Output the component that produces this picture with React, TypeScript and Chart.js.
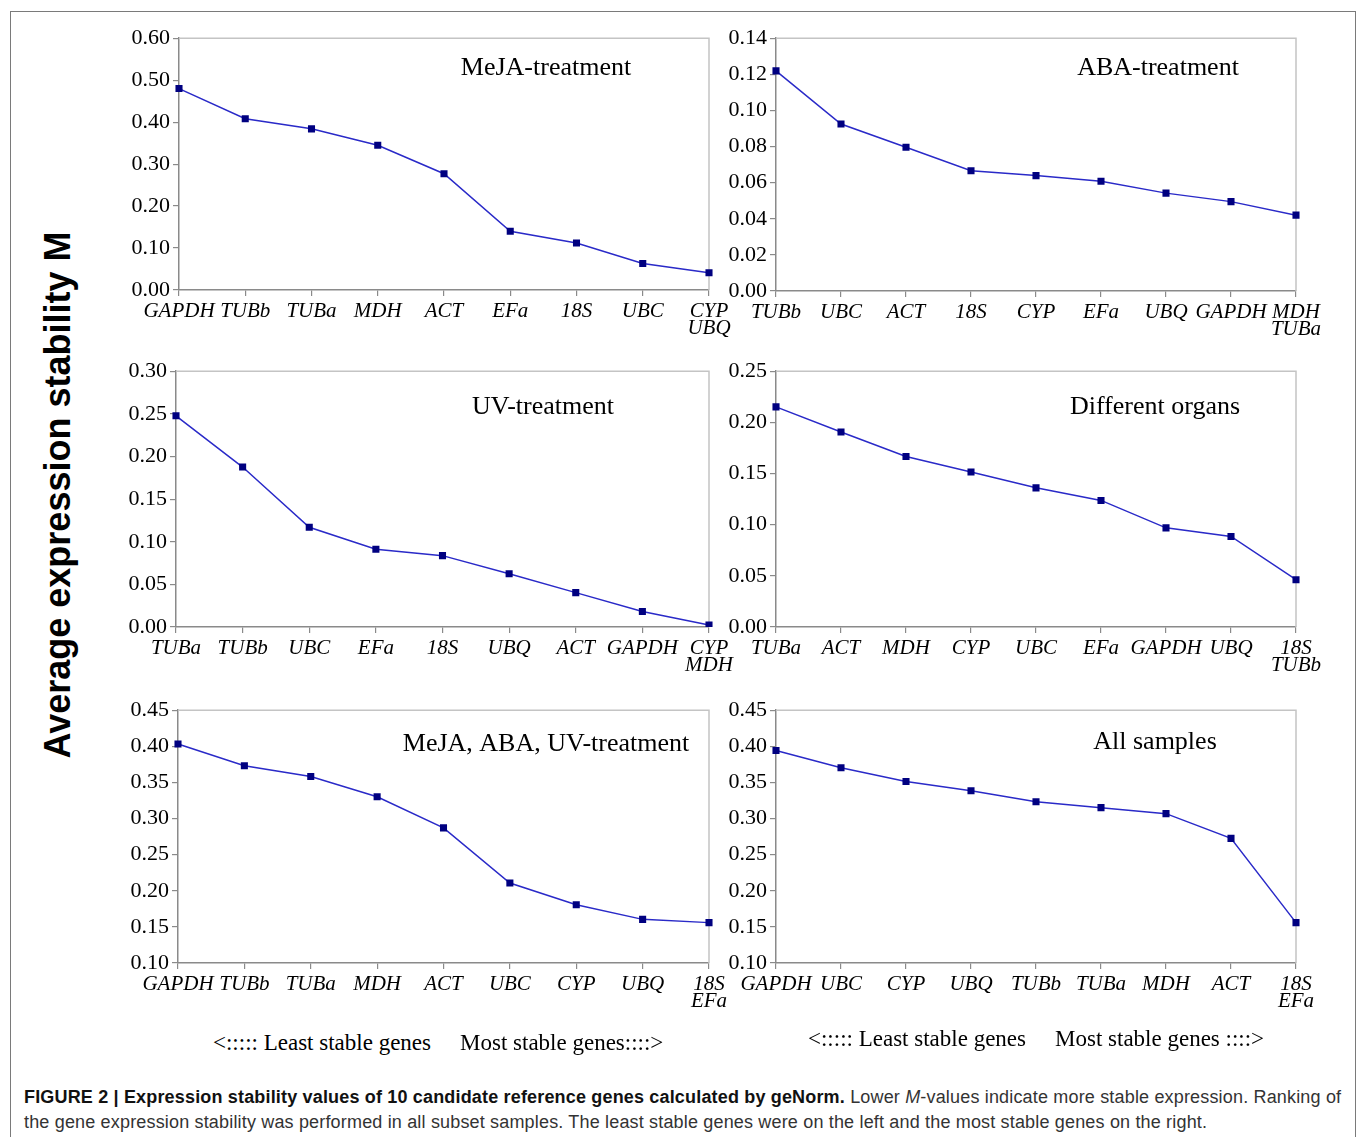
import React, { useEffect, useRef } from "react";
import { Chart, registerables } from "chart.js";

Chart.register(...registerables);

// ---------- data ----------
const mejaGenes = ["GAPDH", "TUBb", "TUBa", "MDH", "ACT", "EFa", "18S", "UBC", ["CYP", "UBQ"]];
const mejaValues = [0.48, 0.408, 0.384, 0.345, 0.277, 0.14, 0.112, 0.063, 0.041];
const mejaTicks = [0, 0.1, 0.2, 0.3, 0.4, 0.5, 0.6];

const abaGenes = ["TUBb", "UBC", "ACT", "18S", "CYP", "EFa", "UBQ", "GAPDH", ["MDH", "TUBa"]];
const abaValues = [0.1219, 0.0925, 0.0796, 0.0666, 0.0639, 0.0608, 0.0542, 0.0495, 0.042];
const abaTicks = [0, 0.02, 0.04, 0.06, 0.08, 0.1, 0.12, 0.14];

const uvGenes = ["TUBa", "TUBb", "UBC", "EFa", "18S", "UBQ", "ACT", "GAPDH", ["CYP", "MDH"]];
const uvValues = [0.2477, 0.1876, 0.117, 0.0911, 0.0837, 0.0624, 0.0403, 0.0182, 0.0023];
const uvTicks = [0, 0.05, 0.1, 0.15, 0.2, 0.25, 0.3];

const organGenes = ["TUBa", "ACT", "MDH", "CYP", "UBC", "EFa", "GAPDH", "UBQ", ["18S", "TUBb"]];
const organValues = [0.2151, 0.1906, 0.1667, 0.1515, 0.136, 0.1237, 0.0969, 0.0885, 0.0462];
const organTicks = [0, 0.05, 0.1, 0.15, 0.2, 0.25];

const comboGenes = ["GAPDH", "TUBb", "TUBa", "MDH", "ACT", "UBC", "CYP", "UBQ", ["18S", "EFa"]];
const comboValues = [0.4033, 0.3732, 0.3581, 0.3301, 0.2871, 0.2108, 0.1806, 0.1604, 0.1559];
const comboTicks = [0.1, 0.15, 0.2, 0.25, 0.3, 0.35, 0.4, 0.45];

const allGenes = ["GAPDH", "UBC", "CYP", "UBQ", "TUBb", "TUBa", "MDH", "ACT", ["18S", "EFa"]];
const allValues = [0.3942, 0.3704, 0.3512, 0.3384, 0.3233, 0.3151, 0.3068, 0.2725, 0.1559];
const allTicks = [0.1, 0.15, 0.2, 0.25, 0.3, 0.35, 0.4, 0.45];

const panelTitles = [
  "MeJA-treatment",
  "ABA-treatment",
  "UV-treatment",
  "Different organs",
  "MeJA, ABA, UV-treatment",
  "All samples",
];

const yAxisTitle = "Average expression stability M";
const leastText = "<::::: Least stable genes";
const mostText = "Most stable genes::::>";
const mostText2 = "Most stable genes ::::>";

// ---------- layout ----------
const SERIF = '"Liberation Serif", "Times New Roman", serif';
const SANS = '"Liberation Sans", Arial, Helvetica, sans-serif';
const PAD_L = 70;
const PAD_T = 15;
const PAD_R = 40;
const PAD_B = 66;

type Area = { left: number; top: number; right: number; bottom: number };

const framePlugin = {
  id: "frame",
  beforeDatasetsDraw(chart: any) {
    const { ctx, chartArea } = chart;
    const { left, top, right, bottom } = chartArea;
    ctx.save();
    ctx.strokeStyle = "#c4c4c4";
    ctx.lineWidth = 1.5;
    ctx.beginPath();
    ctx.moveTo(left, top);
    ctx.lineTo(right, top);
    ctx.lineTo(right, bottom);
    ctx.stroke();
    ctx.restore();
  },
};

const titlePlugin = {
  id: "panelTitle",
  afterDraw(chart: any, _args: any, opts: any) {
    const { ctx } = chart;
    ctx.save();
    ctx.font = `26px ${SERIF}`;
    ctx.fillStyle = "#000";
    ctx.textAlign = "center";
    ctx.textBaseline = "middle";
    ctx.fillText(opts.text, opts.x, opts.y);
    ctx.restore();
  },
};

function Panel(props: {
  labels: any[];
  values: number[];
  ticks: number[];
  title: string;
  area: Area;
  titleCx: number;
  titleCy: number;
}) {
  const ref = useRef<HTMLCanvasElement | null>(null);
  const { labels, values, ticks, title, area, titleCx, titleCy } = props;
  const w = area.right - area.left + PAD_L + PAD_R;
  const h = area.bottom - area.top + PAD_T + PAD_B;
  const cLeft = area.left - PAD_L;
  const cTop = area.top - PAD_T;

  useEffect(() => {
    if (!ref.current) return;
    const axisGrid = {
      display: true,
      drawOnChartArea: false,
      drawTicks: true,
      tickLength: 6,
      color: "#8a8a8a",
      lineWidth: 1.2,
    };
    const chart = new Chart(ref.current, {
      type: "line",
      data: {
        labels,
        datasets: [
          {
            data: values,
            borderColor: "#2a2ac8",
            borderWidth: 1.5,
            pointStyle: "rect",
            pointRadius: 5,
            pointBackgroundColor: "#000080",
            pointBorderColor: "#000080",
            pointBorderWidth: 0,
            tension: 0,
            fill: false,
          },
        ],
      },
      options: {
        responsive: false,
        animation: false,
        devicePixelRatio: 1,
        layout: { padding: { left: 0, top: PAD_T, right: PAD_R, bottom: 0 } },
        plugins: {
          legend: { display: false },
          tooltip: { enabled: false },
          panelTitle: { text: title, x: titleCx - cLeft, y: titleCy - cTop },
        } as any,
        scales: {
          x: {
            type: "category",
            offset: false,
            grid: axisGrid,
            border: { display: true, color: "#8a8a8a", width: 1.5 },
            ticks: {
              autoSkip: false,
              maxRotation: 0,
              minRotation: 0,
              color: "#000",
              padding: 7,
              font: { family: SERIF, size: 21, style: "italic", lineHeight: 0.8 },
            },
            afterFit: (s: any) => {
              s.height = PAD_B;
            },
          },
          y: {
            min: ticks[0],
            max: ticks[ticks.length - 1],
            grid: axisGrid,
            border: { display: true, color: "#8a8a8a", width: 1.5 },
            afterBuildTicks: (s: any) => {
              s.ticks = ticks.map((v) => ({ value: v }));
            },
            ticks: {
              color: "#000",
              padding: 3,
              font: { family: SERIF, size: 22 },
              callback: (v: any) => Number(v).toFixed(2),
            },
            afterFit: (s: any) => {
              s.width = PAD_L;
            },
          },
        },
      } as any,
      plugins: [framePlugin, titlePlugin],
    });
    return () => chart.destroy();
  }, []);

  return (
    <canvas
      ref={ref}
      width={w}
      height={h}
      style={{ position: "absolute", left: cLeft, top: cTop, width: w, height: h }}
    />
  );
}

const textAbs = (x: number, y: number, extra: any = {}) => ({
  position: "absolute" as const,
  left: x,
  top: y,
  whiteSpace: "nowrap" as const,
  lineHeight: 1,
  ...extra,
});

export default function App() {
  const bottomFont = { fontFamily: SERIF, fontSize: 23, color: "#000" };
  const captionFont = { fontFamily: SANS, fontSize: 18, letterSpacing: "0.17px", color: "#333" };
  return (
    <div
      style={{
        position: "absolute",
        left: 0,
        top: 0,
        width: 1360,
        height: 1137,
        background: "#fff",
        overflow: "hidden",
      }}
    >
      <div
        style={{
          position: "absolute",
          left: 10,
          top: 11,
          width: 1346,
          height: 1140,
          border: "1.5px solid #7a7a7a",
          boxSizing: "border-box",
        }}
      />
      <Panel labels={mejaGenes} values={mejaValues} ticks={mejaTicks} title={panelTitles[0]}
        area={{ left: 179, top: 37, right: 709, bottom: 290 }} titleCx={546} titleCy={68} />
      <Panel labels={abaGenes} values={abaValues} ticks={abaTicks} title={panelTitles[1]}
        area={{ left: 776, top: 37, right: 1296, bottom: 291 }} titleCx={1158} titleCy={68} />
      <Panel labels={uvGenes} values={uvValues} ticks={uvTicks} title={panelTitles[2]}
        area={{ left: 176, top: 370, right: 709, bottom: 627 }} titleCx={543} titleCy={407} />
      <Panel labels={organGenes} values={organValues} ticks={organTicks} title={panelTitles[3]}
        area={{ left: 776, top: 370, right: 1296, bottom: 627 }} titleCx={1155} titleCy={407} />
      <Panel labels={comboGenes} values={comboValues} ticks={comboTicks} title={panelTitles[4]}
        area={{ left: 178, top: 709, right: 709, bottom: 963 }} titleCx={546} titleCy={744} />
      <Panel labels={allGenes} values={allValues} ticks={allTicks} title={panelTitles[5]}
        area={{ left: 776, top: 709, right: 1296, bottom: 963 }} titleCx={1155} titleCy={742} />

      <div
        style={{
          position: "absolute",
          left: 58,
          top: 495,
          transform: "translate(-50%, -50%) rotate(-90deg)",
          fontFamily: SANS,
          fontWeight: "bold",
          fontSize: 36,
          color: "#000",
          whiteSpace: "nowrap",
          lineHeight: 1,
        }}
      >
        {yAxisTitle}
      </div>

      <div style={textAbs(213, 1031, bottomFont)}>{leastText}</div>
      <div style={textAbs(460, 1031, bottomFont)}>{mostText}</div>
      <div style={textAbs(808, 1027, bottomFont)}>{leastText}</div>
      <div style={textAbs(1055, 1027, bottomFont)}>{mostText2}</div>

      <div style={textAbs(24, 1088, captionFont)}>
        <b style={{ color: "#111" }}>
          FIGURE 2 | Expression stability values of 10 candidate reference genes calculated by geNorm.
        </b>{" "}
        Lower <i>M</i>-values indicate more stable expression. Ranking of
      </div>
      <div style={textAbs(24, 1113, captionFont)}>
        the gene expression stability was performed in all subset samples. The least stable genes were on the
        left and the most stable genes on the right.
      </div>
    </div>
  );
}
